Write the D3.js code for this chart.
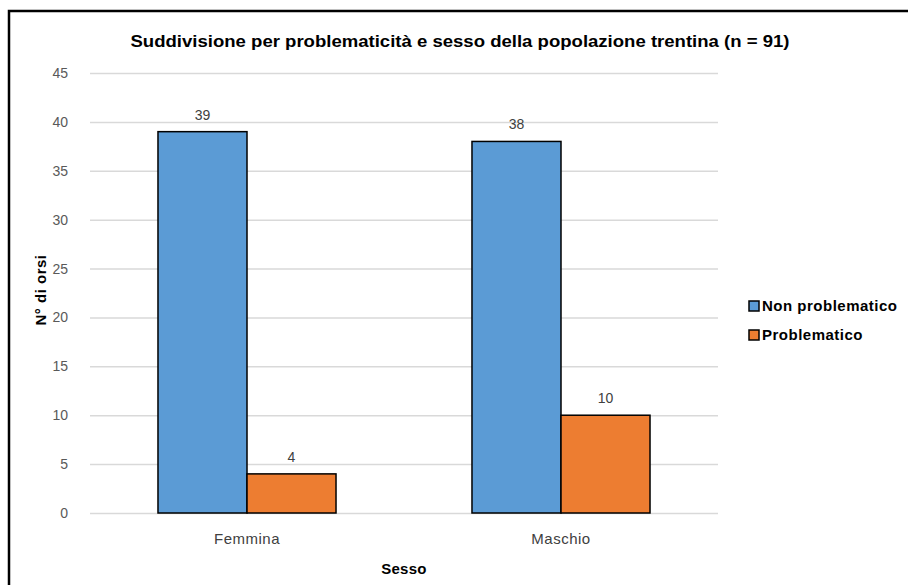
<!DOCTYPE html>
<html><head><meta charset="utf-8">
<script src="https://cdn.jsdelivr.net/npm/d3@7"></script>
<style>body{margin:0;background:#fff}svg{display:block}text{font-family:"Liberation Sans",Arial,sans-serif}</style>
</head><body><svg id="c" width="908" height="585"></svg>
<script>
const categories = ["Femmina", "Maschio"];
const seriesNames = ["Non problematico", "Problematico"];
const nonProblematico = [39, 38];
const problematico = [4, 10];
const yTicks = [0, 5, 10, 15, 20, 25, 30, 35, 40, 45];
const colors = ["#5B9BD5", "#ED7D31"];
const title = "Suddivisione per problematicità e sesso della popolazione trentina (n = 91)";
const xTitle = "Sesso";
const yTitle = "N° di orsi";

const series = [nonProblematico, problematico];
const FF = '"Liberation Sans",Arial,sans-serif';
const svg = d3.select("#c");
svg.append("rect").attr("x", 9).attr("y", 11).attr("width", 1000).attr("height", 700)
  .attr("fill", "#fff").attr("stroke", "#000").attr("stroke-width", 2.5);

const L = 90, R = 718, T = 73, B = 513;
const x0 = d3.scaleBand().domain(categories).range([L, R]).paddingInner(0.433).paddingOuter(0.2165);
const x1 = d3.scaleBand().domain(seriesNames).range([0, x0.bandwidth()]);
const y = d3.scaleLinear().domain([0, 45]).range([B, T]);

const yAxis = svg.append("g").attr("transform", `translate(${L},0)`)
  .call(d3.axisLeft(y).tickValues(yTicks).tickSize(-(R - L)).tickPadding(22));
yAxis.select(".domain").remove();
yAxis.selectAll(".tick line").attr("stroke", "#d9d9d9").attr("stroke-width", 1.5);
yAxis.selectAll(".tick text").attr("fill", "#595959").attr("font-size", 14)
  .style("font-family", FF);

const xAxis = svg.append("g").attr("transform", `translate(0,${B})`)
  .call(d3.axisBottom(x0).tickSize(0).tickPadding(20));
xAxis.select(".domain").remove();
xAxis.selectAll(".tick text").attr("fill", "#404040").attr("font-size", 15)
  .attr("letter-spacing", 0.5).style("font-family", FF);

const groups = svg.append("g").selectAll("g").data(categories).join("g")
  .attr("transform", d => `translate(${x0(d)},0)`);
groups.selectAll("rect").data((c, i) => seriesNames.map((s, j) => ({s, v: series[j][i], j})))
  .join("rect")
  .attr("x", d => x1(d.s)).attr("width", x1.bandwidth())
  .attr("y", d => y(d.v)).attr("height", d => y(0) - y(d.v))
  .attr("fill", d => colors[d.j]).attr("stroke", "#000").attr("stroke-width", 1.5);
groups.selectAll("text.v").data((c, i) => seriesNames.map((s, j) => ({s, v: series[j][i], j})))
  .join("text").attr("class", "v")
  .attr("x", d => x1(d.s) + x1.bandwidth() / 2).attr("y", d => y(d.v) - 12)
  .attr("text-anchor", "middle").attr("font-size", 14).attr("fill", "#404040")
  .text(d => d.v);

svg.append("text").attr("x", 460).attr("y", 47).attr("text-anchor", "middle")
  .attr("font-size", 17).attr("font-weight", "bold").attr("fill", "#000")
  .attr("textLength", 659).attr("lengthAdjust", "spacingAndGlyphs").text(title);
svg.append("text").attr("x", (L + R) / 2).attr("y", 574).attr("text-anchor", "middle")
  .attr("font-size", 15).attr("font-weight", "bold").attr("letter-spacing", 0.3).text(xTitle);
svg.append("text").attr("transform", "translate(46,290) rotate(-90)").attr("text-anchor", "middle")
  .attr("font-size", 15).attr("font-weight", "bold").attr("letter-spacing", 0.5).text(yTitle);

const leg = svg.append("g").selectAll("g").data(seriesNames).join("g")
  .attr("transform", (d, i) => `translate(749,${301 + i * 29})`);
leg.append("rect").attr("width", 10).attr("height", 10)
  .attr("fill", (d, i) => colors[i]).attr("stroke", "#000").attr("stroke-width", 1.5);
leg.append("text").attr("x", 13).attr("y", 10).attr("font-size", 15).attr("font-weight", "bold")
  .attr("letter-spacing", 0.5).text(d => d);
</script></body></html>
